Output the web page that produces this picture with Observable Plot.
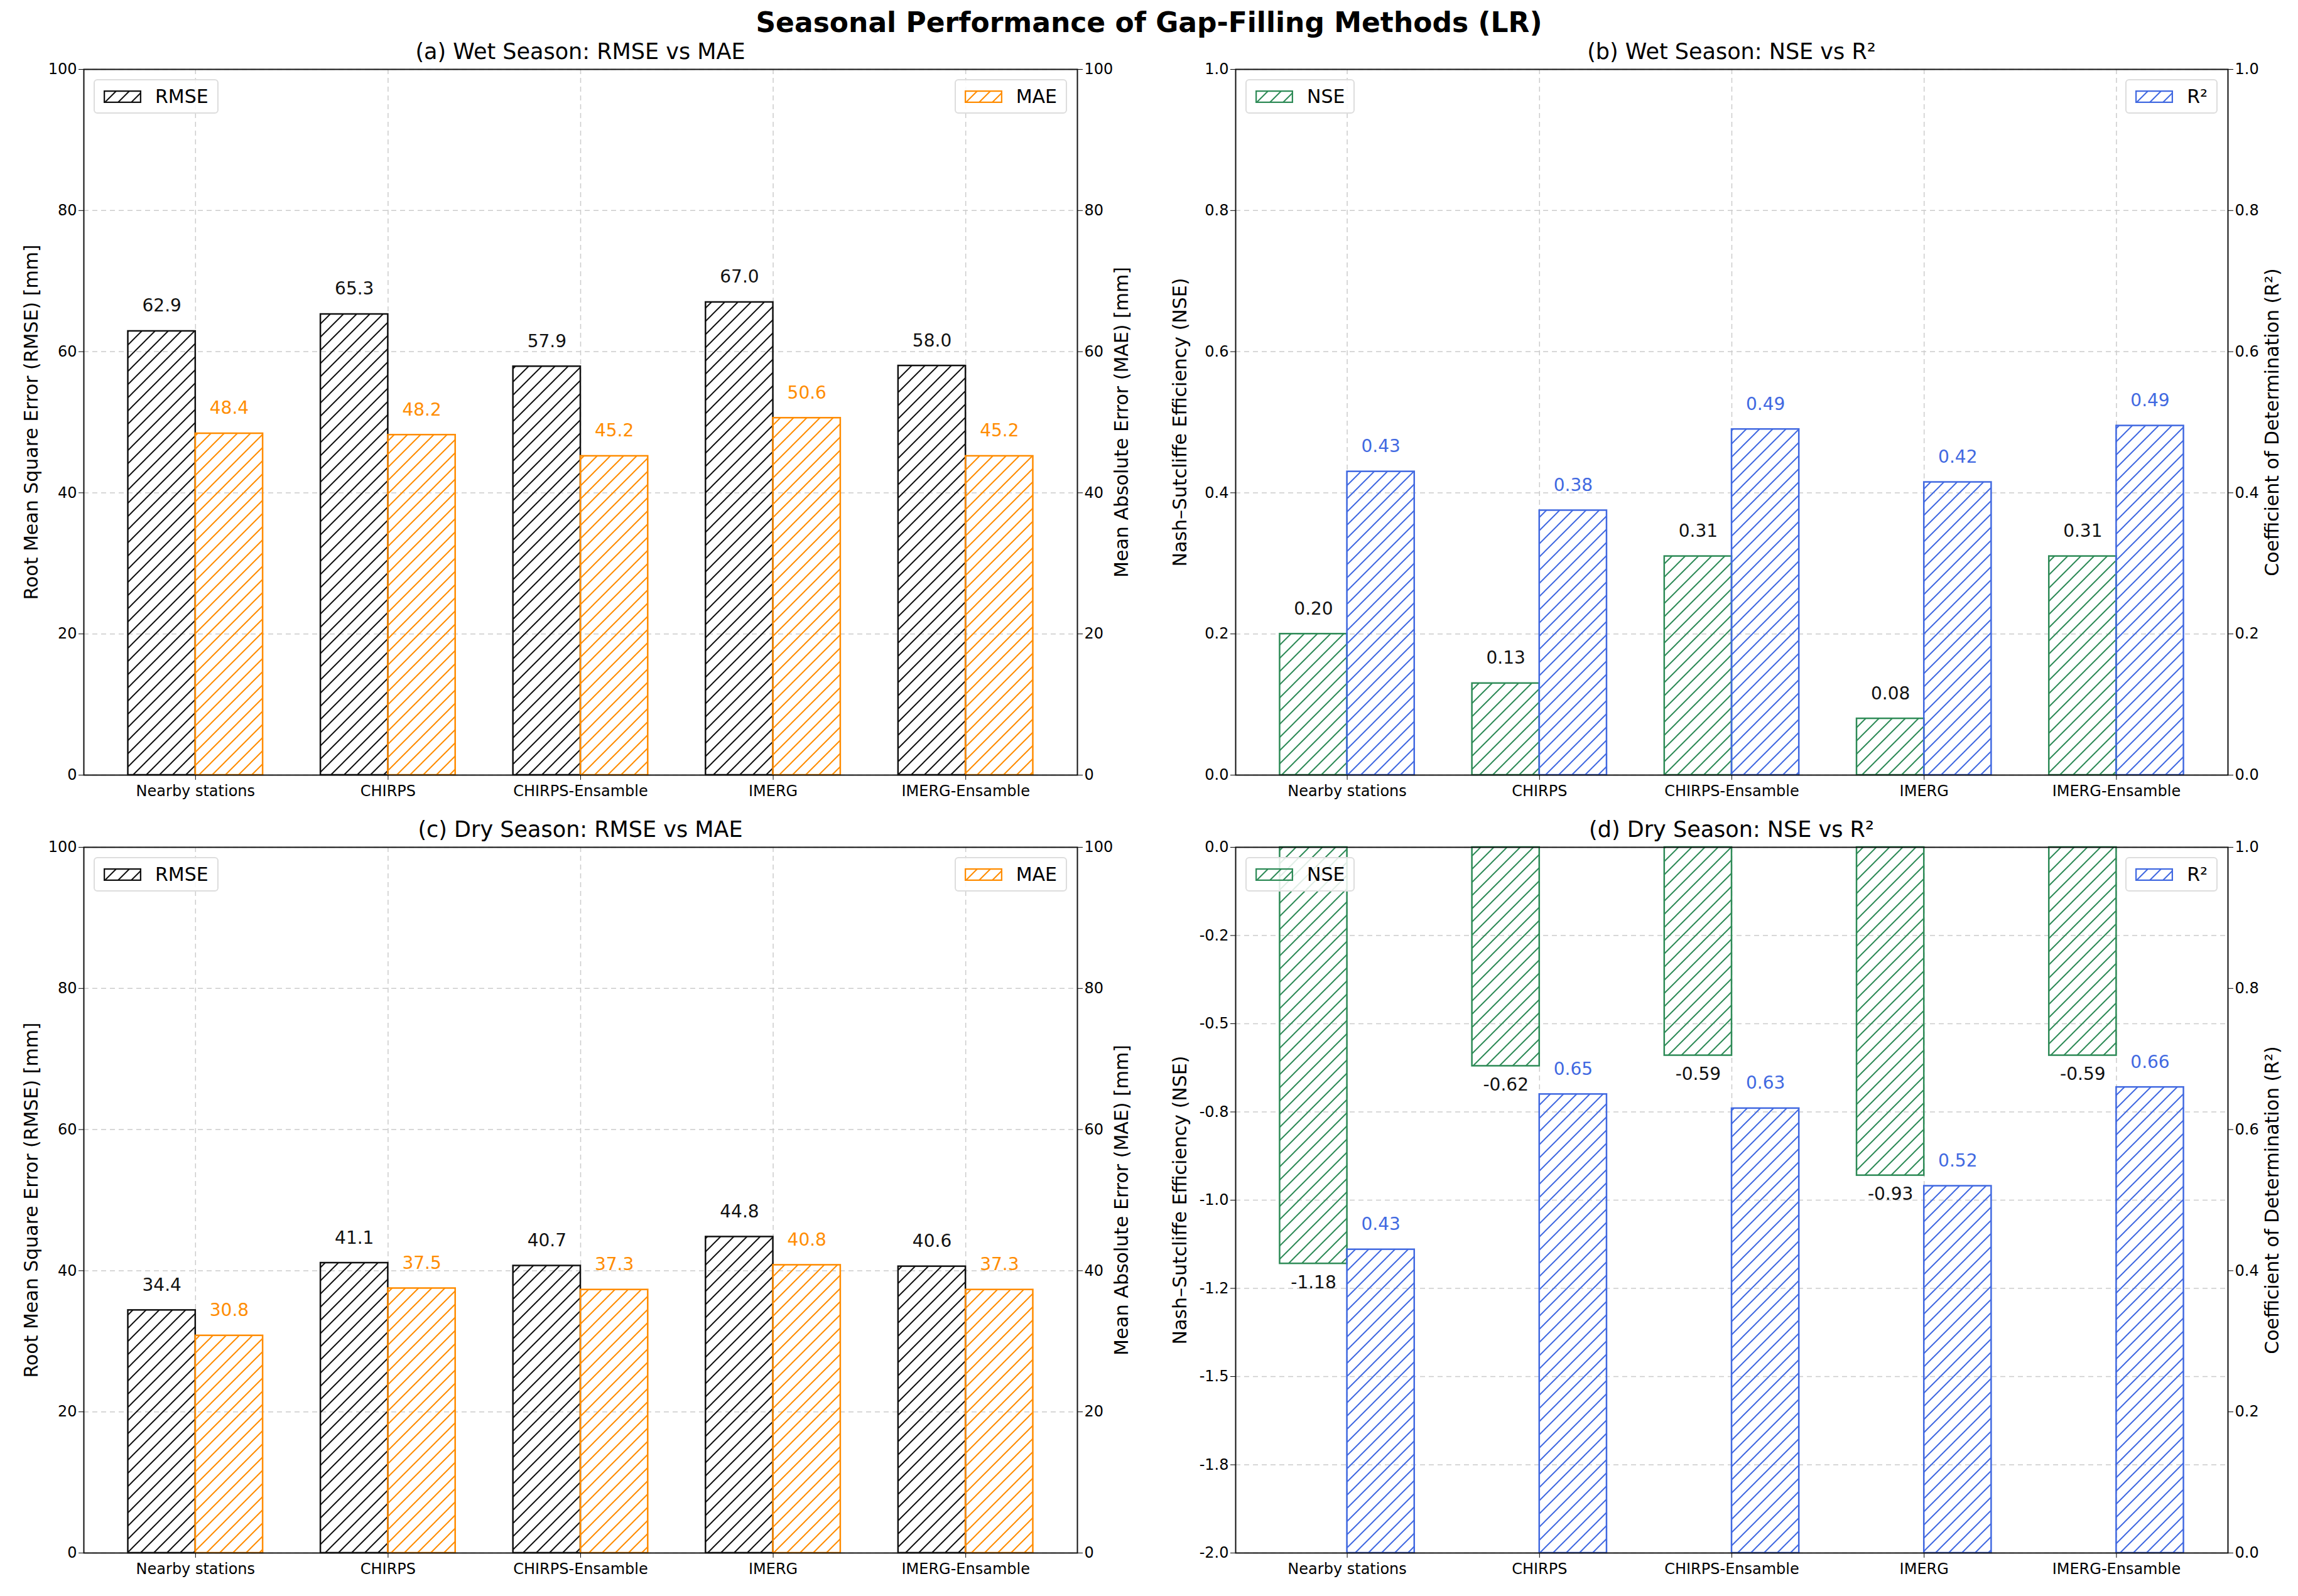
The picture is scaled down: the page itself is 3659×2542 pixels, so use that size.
<!DOCTYPE html>
<html><head><meta charset="utf-8">
<script src="https://cdn.jsdelivr.net/npm/d3@7"></script>
<script src="https://cdn.jsdelivr.net/npm/@observablehq/plot@0.6"></script>
<style>
body{margin:0;background:#fff;font-family:"DejaVu Sans",sans-serif;}
#fig{position:relative;width:3659px;height:2542px;}
.abs{position:absolute;}
.ptitle{font-size:35px;text-align:center;white-space:nowrap;}
.leg{border:2px solid #ddd;border-radius:6px;background:rgba(255,255,255,0.85);padding:8px 14px;font-size:30px;display:flex;align-items:center;gap:22px;}
.sw{width:60px;height:20px;}
</style></head>
<body>
<svg width="0" height="0" style="position:absolute">
<defs>
<pattern id="h-black" patternUnits="userSpaceOnUse" width="21" height="21"><path d="M-5,5 l10,-10 M0,21 l21,-21 M16,26 l10,-10" stroke="#111" stroke-width="2"/></pattern>
<pattern id="h-orange" patternUnits="userSpaceOnUse" width="21" height="21"><path d="M-5,5 l10,-10 M0,21 l21,-21 M16,26 l10,-10" stroke="#ff8c00" stroke-width="2"/></pattern>
<pattern id="h-green" patternUnits="userSpaceOnUse" width="21" height="21"><path d="M-5,5 l10,-10 M0,21 l21,-21 M16,26 l10,-10" stroke="#2e8b57" stroke-width="2"/></pattern>
<pattern id="h-blue" patternUnits="userSpaceOnUse" width="21" height="21"><path d="M-5,5 l10,-10 M0,21 l21,-21 M16,26 l10,-10" stroke="#4169e1" stroke-width="2"/></pattern>
</defs></svg>
<div id="fig">
<div class="abs" style="left:0;width:3659px;top:10px;text-align:center;font-size:44px;font-weight:bold;">Seasonal Performance of Gap-Filling Methods (LR)</div>
</div>
<script>
const methods = ["Nearby stations", "CHIRPS", "CHIRPS-Ensamble", "IMERG", "IMERG-Ensamble"];
const wetRMSE = [62.9, 65.3, 57.9, 67.0, 58.0];
const wetMAE = [48.4, 48.2, 45.2, 50.6, 45.2];
const wetNSE = [0.20, 0.13, 0.31, 0.08, 0.31];
const wetR2 = [0.43, 0.375, 0.49, 0.415, 0.495];
const dryRMSE = [34.4, 41.1, 40.7, 44.8, 40.6];
const dryMAE = [30.8, 37.5, 37.3, 40.8, 37.3];
const dryNSE = [-1.18, -0.62, -0.59, -0.93, -0.59];
const dryR2 = [0.43, 0.65, 0.63, 0.52, 0.66];
const errTicks = [0, 20, 40, 60, 80, 100];
const effTicks = [0, 0.2, 0.4, 0.6, 0.8, 1.0];
const dryNseTicks = [0, -0.25, -0.5, -0.75, -1, -1.25, -1.5, -1.75, -2];
const dryNseLabels = ["0.0", "-0.2", "-0.5", "-0.8", "-1.0", "-1.2", "-1.5", "-1.8", "-2.0"];

const COL = {black: "#111", orange: "#ff8c00", green: "#2e8b57", blue: "#4169e1"};
const fig = document.getElementById("fig");
const W = 0.35;

function panel(o) {
  const rows = methods.map((m, i) => ({i, m, a: o.a[i], b: o.b[i], bl: o.bl ? o.bl[i] : o.b[i]}));
  const bY = o.mapB || (v => v);
  const rightTicks = o.rightTicks;
  const chart = Plot.plot({
    width: o.width, height: o.height,
    marginLeft: o.ml, marginRight: o.mr, marginTop: o.mt, marginBottom: o.mb,
    style: {fontFamily: "DejaVu Sans, sans-serif", fontSize: "24px", background: "transparent"},
    x: {domain: [-0.58, 4.58], axis: null},
    y: {domain: o.ydomain, axis: null},
    marks: [
      Plot.gridX(d3.range(5), {stroke: "#ccc", strokeDasharray: "8,6", strokeOpacity: 1, strokeWidth: 1.5}),
      Plot.gridY(o.leftTicks, {stroke: "#ccc", strokeDasharray: "8,6", strokeOpacity: 1, strokeWidth: 1.5}),
      Plot.rectY(rows, {x1: d => d.i - W, x2: d => d.i, y1: o.base, y2: "a", fill: `url(#h-${o.ca})`, stroke: COL[o.ca], strokeWidth: 2.5}),
      Plot.rectY(rows, {x1: d => d.i, x2: d => d.i + W, y1: bY(0), y2: d => bY(d.b), fill: `url(#h-${o.cb})`, stroke: COL[o.cb], strokeWidth: 2.5}),
      Plot.text(rows.filter(d => d.a >= 0), {x: d => d.i - W / 2, y: "a", text: d => d.a.toFixed(o.dec), dy: -40, fill: "#111", fontSize: 28}),
      Plot.text(rows.filter(d => d.a < 0), {x: d => d.i - W / 2, y: "a", text: d => d.a.toFixed(o.dec), dy: 30, fill: "#111", fontSize: 28}),
      Plot.text(rows, {x: d => d.i + W / 2, y: d => bY(d.b), text: d => d.bl.toFixed(o.dec), dy: -40, fill: COL[o.cb], fontSize: 28}),
      Plot.axisX(d3.range(5), {tickFormat: i => methods[i], fontSize: 24, tickSize: 8, tickPadding: 8, label: null}),
      Plot.axisY(o.leftTicks, {anchor: "left", tickFormat: o.leftFormat, fontSize: 24, tickSize: 8, label: o.leftLabel, labelAnchor: "center", labelArrow: "none", labelOffset: o.llo}),
      Plot.axisY(rightTicks.map(bY), {anchor: "right", tickFormat: (v, k) => o.rightFormat(rightTicks[k]), fontSize: 24, tickSize: 8, label: o.rightLabel, labelAnchor: "center", labelArrow: "none", labelOffset: o.rlo}),
      Plot.frame({stroke: "#111", strokeWidth: 2})
    ]
  });
  chart.style.position = "absolute";
  chart.style.left = o.left + "px";
  chart.style.top = o.top + "px";
  chart.querySelectorAll("g[aria-label='y-axis label'] text, g[aria-label='y-axis label']").forEach(t => t.setAttribute("font-size", 30));
  fig.appendChild(chart);
  const px0 = o.left + o.ml, px1 = o.left + o.width - o.mr;
  const t = document.createElement("div");
  t.className = "abs ptitle";
  t.style.left = px0 + "px"; t.style.width = (px1 - px0) + "px"; t.style.top = (o.top + o.mt - 48) + "px";
  t.textContent = o.title;
  fig.appendChild(t);
  const leg = (name, c, side) => {
    const d = document.createElement("div");
    d.className = "abs leg";
    d.style.top = (o.top + o.mt + 16) + "px";
    if (side === "l") d.style.left = (px0 + 16) + "px"; else d.style.right = (3659 - px1 + 16) + "px";
    d.innerHTML = `<svg class="sw"><rect x="1" y="1" width="58" height="18" fill="url(#h-${c})" stroke="${COL[c]}" stroke-width="2.5"/></svg><span>${name}</span>`;
    fig.appendChild(d);
  };
  leg(o.na, o.ca, "l");
  leg(o.nb, o.cb, "r");
}

const f1 = d3.format(".1f");
const top1 = 60, top2 = 1290;
const errOpts = {ydomain: [0, 100], base: 0, leftTicks: errTicks, rightTicks: errTicks, leftFormat: d3.format("d"), rightFormat: d3.format("d"),
  leftLabel: "Root Mean Square Error (RMSE) [mm]", rightLabel: "Mean Absolute Error (MAE) [mm]", ca: "black", cb: "orange", na: "RMSE", nb: "MAE", dec: 1,
  left: 0, width: 1829, ml: 133, mr: 114, llo: 95, rlo: 80};
const effOpts = {base: 0, rightTicks: effTicks, rightFormat: f1,
  leftLabel: "Nash–Sutcliffe Efficiency (NSE)", rightLabel: "Coefficient of Determination (R²)", ca: "green", cb: "blue", na: "NSE", nb: "R²", dec: 2,
  left: 1829, width: 1830, ml: 138, mr: 112, llo: 100, rlo: 80};

panel({...errOpts, a: wetRMSE, b: wetMAE, title: "(a) Wet Season: RMSE vs MAE", top: top1, height: 1230, mt: 50, mb: 56});
panel({...effOpts, a: wetNSE, b: wetR2, bl: [0.43, 0.38, 0.49, 0.42, 0.49], ydomain: [0, 1], leftTicks: effTicks, leftFormat: f1,
  title: "(b) Wet Season: NSE vs R²", top: top1, height: 1230, mt: 50, mb: 56});
panel({...errOpts, a: dryRMSE, b: dryMAE, title: "(c) Dry Season: RMSE vs MAE", top: top2, height: 1252, mt: 59, mb: 69});
panel({...effOpts, a: dryNSE, b: dryR2, ydomain: [-2, 0], leftTicks: dryNseTicks, leftFormat: (v, k) => dryNseLabels[k],
  mapB: v => v * 2 - 2, title: "(d) Dry Season: NSE vs R²", top: top2, height: 1252, mt: 59, mb: 69});
</script>
</body></html>
